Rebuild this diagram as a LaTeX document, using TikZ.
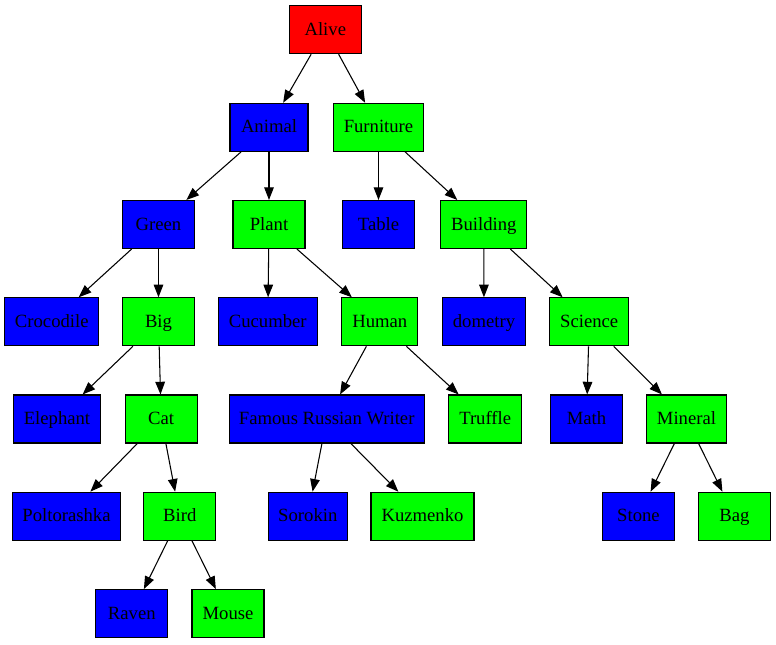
\documentclass[tikz,border=0pt]{standalone}
\usepackage{fontspec}
\setmainfont{Liberation Serif}
\usetikzlibrary{arrows.meta}
\definecolor{gvred}{RGB}{255,0,0}
\definecolor{gvblue}{RGB}{0,0,255}
\definecolor{gvgreen}{RGB}{0,255,0}
\begin{document}
\begin{tikzpicture}[x=0.75pt,y=-0.75pt,
  gbox/.style={draw=black,line width=0.8pt,rectangle,minimum height=36pt,inner sep=0pt,text height=11pt,text depth=2.6pt,font=\fontsize{14}{16}\selectfont,text=black},
  wd/.style={minimum width=#1*0.75pt},
  rbox/.style={gbox,fill=gvred},
  bbox/.style={gbox,fill=gvblue},
  ggbox/.style={gbox,fill=gvgreen},
  edge/.style={draw=black,line width=0.8pt,-{Triangle[length=9.5pt,width=7.2pt]}}]
\useasboundingbox (0,0) rectangle (776,644);
% level 0
\node[rbox,wd=72] (alive) at (325.3,29.7) {Alive};
% level 1
\node[bbox,wd=78] (animal) at (269,127.3) {Animal};
\node[ggbox,wd=89.6] (furniture) at (378.5,127.3) {Furniture};
% level 2
\node[bbox,wd=72] (green) at (158.5,224.5) {Green};
\node[ggbox,wd=72] (plant) at (269,224.5) {Plant};
\node[bbox,wd=72] (table) at (378.5,224.5) {Table};
\node[ggbox,wd=85.7] (building) at (483.8,224.5) {Building};
% level 3
\node[bbox,wd=94] (crocodile) at (51.8,321.8) {Crocodile};
\node[ggbox,wd=72] (big) at (158.5,321.8) {Big};
\node[bbox,wd=99] (cucumber) at (267.8,321.8) {Cucumber};
\node[ggbox,wd=76] (human) at (379.8,321.8) {Human};
\node[bbox,wd=83] (dometry) at (484,321.8) {dometry};
\node[ggbox,wd=79] (science) at (589.2,321.8) {Science};
% level 4
\node[bbox,wd=87] (elephant) at (57,419) {Elephant};
\node[ggbox,wd=72] (cat) at (161.2,419) {Cat};
\node[bbox,wd=195] (writer) at (326.7,419) {Famous Russian Writer};
\node[ggbox,wd=73] (truffle) at (485.2,419) {Truffle};
\node[bbox,wd=72] (math) at (586.5,419) {Math};
\node[ggbox,wd=80] (mineral) at (686.5,419) {Mineral};
% level 5
\node[bbox,wd=107.6] (poltorashka) at (66.5,516.2) {Poltorashka};
\node[ggbox,wd=72] (bird) at (179.8,516.2) {Bird};
\node[bbox,wd=79] (sorokin) at (307.8,516.2) {Sorokin};
\node[ggbox,wd=103] (kuzmenko) at (422.5,516.2) {Kuzmenko};
\node[bbox,wd=72] (stone) at (638.5,516.2) {Stone};
\node[ggbox,wd=72] (bag) at (734.5,516.2) {Bag};
% level 6
\node[bbox,wd=72] (raven) at (131.8,613.6) {Raven};
\node[ggbox,wd=72] (mouse) at (228,613.6) {Mouse};
% edges
\draw[edge] (alive) -- (animal);
\draw[edge] (alive) -- (furniture);
\draw[edge] (animal) -- (green);
\draw[edge] (animal) -- (plant);
\draw[edge] (furniture) -- (table);
\draw[edge] (furniture) -- (building);
\draw[edge] (green) -- (crocodile);
\draw[edge] (green) -- (big);
\draw[edge] (plant) -- (cucumber);
\draw[edge] (plant) -- (human);
\draw[edge] (building) -- (dometry);
\draw[edge] (building) -- (science);
\draw[edge] (big) -- (elephant);
\draw[edge] (big) -- (cat);
\draw[edge] (human) -- (writer);
\draw[edge] (human) -- (truffle);
\draw[edge] (science) -- (math);
\draw[edge] (science) -- (mineral);
\draw[edge] (cat) -- (poltorashka);
\draw[edge] (cat) -- (bird);
\draw[edge] (writer) -- (sorokin);
\draw[edge] (writer) -- (kuzmenko);
\draw[edge] (mineral) -- (stone);
\draw[edge] (mineral) -- (bag);
\draw[edge] (bird) -- (raven);
\draw[edge] (bird) -- (mouse);
\end{tikzpicture}
\end{document}
